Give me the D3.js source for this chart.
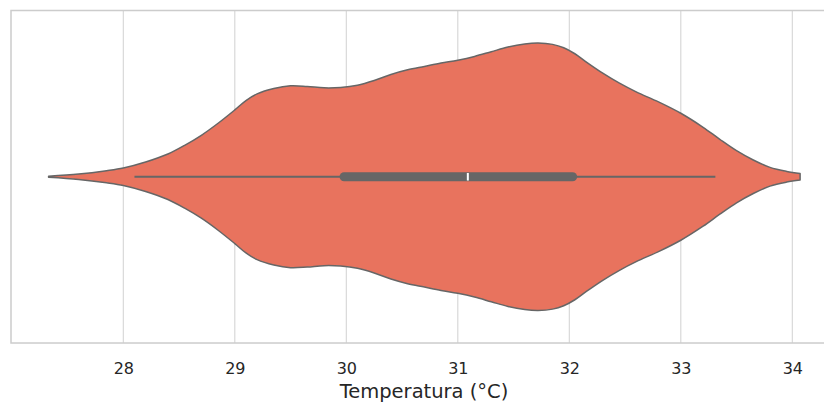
<!DOCTYPE html>
<html>
<head>
<meta charset="utf-8">
<script src="https://cdn.jsdelivr.net/npm/d3@7"></script>
<style>
  html, body { margin: 0; padding: 0; background: #fff; }
  svg { display: block; }
</style>
</head>
<body>
<svg id="chart" width="824" height="403"></svg>
<script>
// Violin profile (relative KDE density)
const temps = [27.33, 27.6, 27.85, 28.0, 28.2, 28.4, 28.55, 28.7, 28.85, 29.0,
  29.1, 29.2, 29.35, 29.5, 29.65, 29.8, 29.95, 30.1, 30.25, 30.4, 30.55, 30.7,
  30.85, 31.0, 31.15, 31.3, 31.45, 31.6, 31.72, 31.85, 31.95, 32.05, 32.15, 32.3,
  32.45, 32.6, 32.8, 33.0, 33.2, 33.35, 33.5, 33.65, 33.8, 33.95, 34.07];
const density = [0.004, 0.02, 0.045, 0.065, 0.11, 0.17, 0.235, 0.31, 0.40, 0.50,
  0.57, 0.62, 0.66, 0.68, 0.675, 0.665, 0.668, 0.685, 0.72, 0.765, 0.80, 0.825,
  0.85, 0.872, 0.90, 0.935, 0.97, 0.993, 1.0, 0.99, 0.965, 0.92, 0.86, 0.775,
  0.70, 0.635, 0.56, 0.475, 0.37, 0.28, 0.195, 0.125, 0.07, 0.04, 0.025];
// Box statistics
const whiskerLow = 28.1, q1 = 29.98, median = 31.09, q3 = 32.03, whiskerHigh = 33.31;
const tickValues = [28, 29, 30, 31, 32, 33, 34];
const xLabel = "Temperatura (°C)";

const svg = d3.select("#chart");
const pLeft = 11, pTop = 10.5, pBottom = 343, pRight = 837;
const x = d3.scaleLinear().domain([28, 34]).range([123.3, 792.3]);
const cy = (pTop + pBottom) / 2;
const w = d3.scaleLinear().domain([0, 1]).range([0, 133.7]);

// grid
svg.append("g").selectAll("line").data(tickValues).join("line")
  .attr("x1", d => x(d)).attr("x2", d => x(d))
  .attr("y1", pTop).attr("y2", pBottom)
  .attr("stroke", "#d5d5d5").attr("stroke-width", 1.1);

// frame
svg.append("rect").attr("x", pLeft).attr("y", pTop)
  .attr("width", pRight - pLeft).attr("height", pBottom - pTop)
  .attr("fill", "none").attr("stroke", "#cccccc").attr("stroke-width", 1.5);

const pts = temps.map((t, i) => ({t, d: density[i]}));
const area = d3.area()
  .x(p => x(p.t))
  .y0(p => cy + w(p.d))
  .y1(p => cy - w(p.d))
  .curve(d3.curveCatmullRom.alpha(0.5));
svg.append("path").datum(pts).attr("d", area)
  .attr("fill", "#e8735e").attr("stroke", "#666666").attr("stroke-width", 1.5)
  .attr("stroke-linejoin", "round");

// whisker
svg.append("line").attr("x1", x(whiskerLow)).attr("x2", x(whiskerHigh))
  .attr("y1", cy).attr("y2", cy)
  .attr("stroke", "#666666").attr("stroke-width", 2.2);
// box
svg.append("line").attr("x1", x(q1)).attr("x2", x(q3))
  .attr("y1", cy).attr("y2", cy)
  .attr("stroke", "#666666").attr("stroke-width", 9).attr("stroke-linecap", "round");
// median
svg.append("line").attr("x1", x(median)).attr("x2", x(median))
  .attr("y1", cy - 3.8).attr("y2", cy + 3.8)
  .attr("stroke", "#ffffff").attr("stroke-width", 2);

// ticks
const axis = d3.axisBottom(x).tickValues(tickValues).tickSize(0).tickPadding(0).tickFormat(d3.format("d"));
const ag = svg.append("g").attr("transform", `translate(0,${pBottom})`).call(axis);
ag.select(".domain").remove();
ag.selectAll("text").attr("y", 30.5).attr("dy", null)
  .attr("font-family", "DejaVu Sans").attr("font-size", 16).attr("fill", "#262626");

svg.append("text").attr("x", (pLeft + pRight) / 2).attr("y", 397.5)
  .attr("text-anchor", "middle").attr("font-family", "DejaVu Sans")
  .attr("font-size", 19.5).attr("fill", "#262626").text(xLabel);
</script>
</body>
</html>
